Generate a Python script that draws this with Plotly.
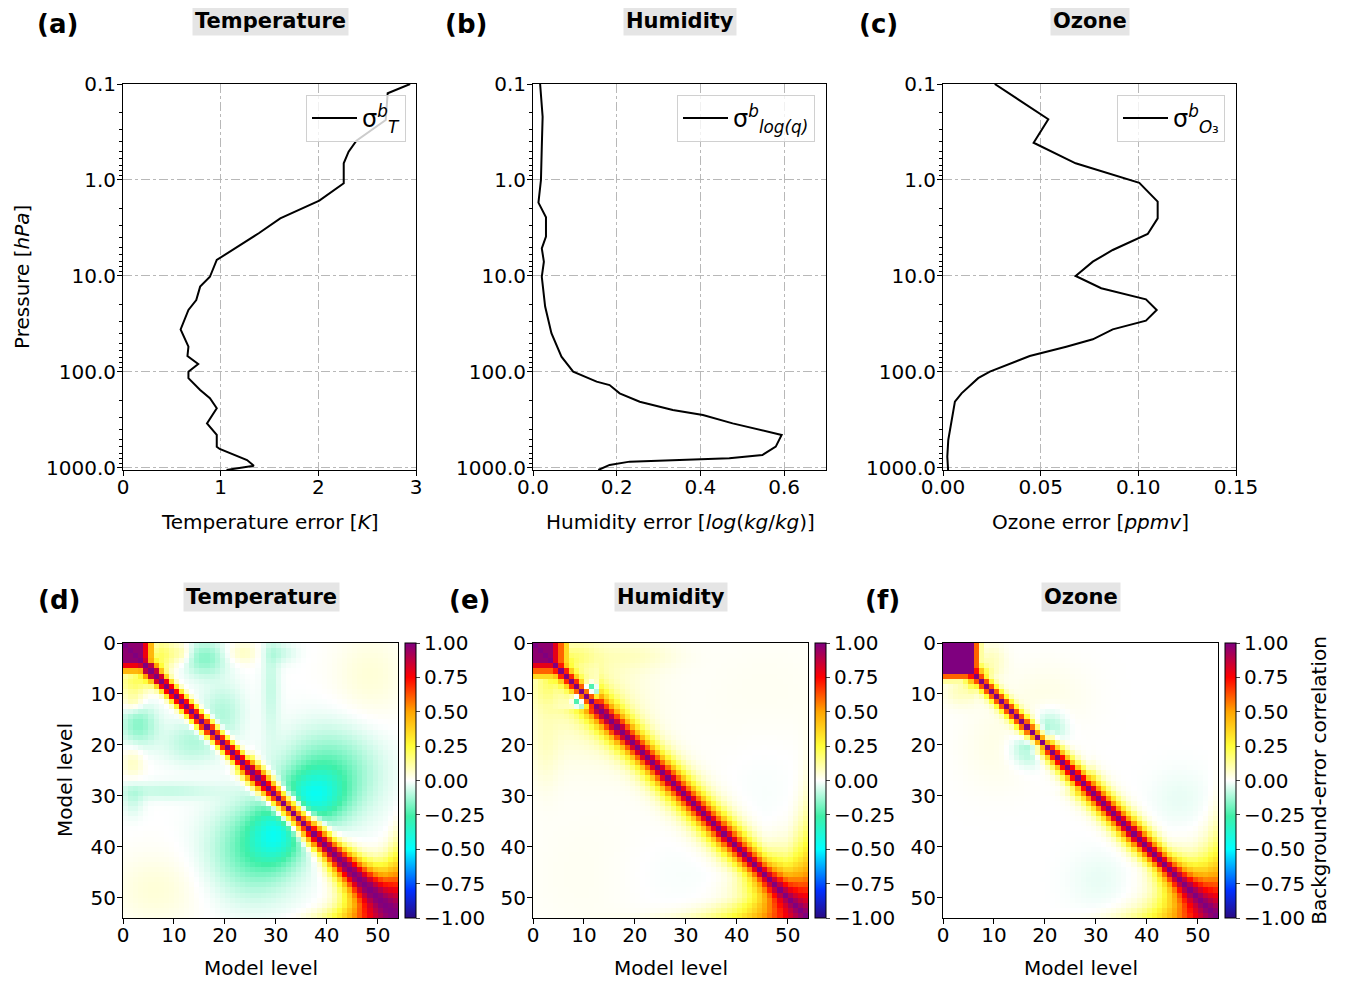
import numpy as np
import plotly.graph_objects as go

# the page body adds an 8 px margin, so the figure is drawn 8 px in from the window corner
OFF = 8
W, H = 1352 - OFF, 981 - OFF
FONT = "DejaVu Sans"

# ---------------- profile data ----------------
t_err = [2.94, 2.71, 2.69, 2.39, 2.31, 2.26, 2.26, 2.01, 1.61, 1.39, 0.96, 0.89, 0.79, 0.75,
         0.67, 0.59, 0.67, 0.66, 0.77, 0.67, 0.67, 0.79, 0.89, 0.96, 0.86, 0.96, 0.96, 0.99,
         1.27, 1.34, 1.06]
t_p = [0.1, 0.125, 0.237, 0.389, 0.507, 0.67, 1.08, 1.64, 2.51, 3.59, 6.81, 10.2, 12.9, 17.8,
       22.6, 36.0, 54.5, 68.1, 82.6, 99.3, 116, 154, 188, 239, 343, 453, 600, 634,
       826, 946, 1050]

q_err = [0.017, 0.023, 0.021, 0.019, 0.013, 0.031, 0.031, 0.021, 0.026, 0.021, 0.029, 0.044,
         0.068, 0.096, 0.152, 0.183, 0.207, 0.255, 0.334, 0.406, 0.477, 0.548, 0.594, 0.580,
         0.548, 0.469, 0.231, 0.183, 0.156]
q_p = [0.1, 0.219, 0.45, 1.0, 1.72, 2.45, 3.89, 5.15, 7.09, 10.2, 20.8, 39.5,
       69.2, 99.3, 126, 137, 167, 204, 249, 281, 343, 402, 453, 600,
       733, 793, 859, 930, 1050]

o_err = [0.0265, 0.0539, 0.0464, 0.0679, 0.1005, 0.1099, 0.1099, 0.1048, 0.0869, 0.0767,
         0.0679, 0.0810, 0.1039, 0.1094, 0.1039, 0.0869, 0.0767, 0.0631, 0.0444, 0.0240,
         0.0180, 0.0095, 0.0061, 0.0044, 0.0027, 0.0022, 0.0026]
o_p = [0.1, 0.233, 0.409, 0.67, 1.07, 1.68, 2.51, 3.65, 5.36, 7.09,
       10.0, 13.4, 17.5, 22.6, 29.2, 36.0, 45.7, 54.5, 68.1, 99.3,
       116, 167, 204, 316, 511, 762, 1050]

p_ticks = [0.1, 1.0, 10.0, 100.0, 1000.0]
p_ticklabels = ["0.1", "1.0", "10.0", "100.0", "1000.0"]

# ---------------- correlation matrices ----------------
levels = list(range(54))

# decorrelation length (in levels) of the diagonal band, per model level,
# and the shape exponent of the band for each variable
t_len = [2.0] * 5 + [1.85] * 20 + [2.4] * 8 + [2.8] * 9 + \
        [3.0, 3.2, 3.5, 3.8, 4.0, 4.3, 4.7, 5.2, 6.0, 7.0, 8.5, 10.0]
q_len = [2.0] * 4 + [1.7] * 9 + [3.2] * 33 + \
        [3.5, 4.0, 4.5, 5.0, 6.0, 7.5, 9.0, 11.0]
o_len = [2.0] * 6 + [1.56] * 15 + [2.2] * 8 + [2.7] * 16 + \
        [3.0, 3.4, 3.8, 4.3, 5.0, 6.0, 7.0, 8.5, 10.0]
t_shape, q_shape, o_shape = 2.0, 1.3, 1.5

# off-diagonal features: (row, col, row spread, col spread, correlation)
t_feat = [(29.5, 37, 3.5, 4.0, -0.30), (26, 40, 6.5, 6.5, -0.14), (40, 24, 6, 5, -0.08),
          (15.5, 2.5, 3, 2.5, -0.16), (7, 2, 1.8, 2.5, 0.20), (28.5, 8, 1.2, 7, -0.08),
          (13, 19, 4, 3, -0.10), (1.5, 11, 1.5, 1.5, 0.12), (1.5, 23, 1.5, 2.5, 0.08),
          (1.5, 30, 1.5, 2.5, -0.07), (48, 6, 5, 6, 0.05)]
q_feat = [(10, 10, 9, 9, 0.08), (2, 8, 2, 3, 0.10), (2, 20, 2, 6, 0.05), (45, 12, 8, 10, 0.03),
          (20, 45, 12, 6, -0.02), (8, 10.5, 0.6, 0.8, -0.45), (11.5, 9.0, 0.6, 0.6, -0.4)]
o_feat = [(16.5, 20.5, 2.5, 2.2, -0.14), (3, 9, 2.5, 2, 0.08), (30, 46, 4, 4, -0.03),
          (20, 10, 6, 5, 0.03)]

# strongly-correlated top blocks: (first level, last level + 1, correlation)
t_blocks = [(0, 6, 0.45), (0, 5, 0.78), (0, 4, 0.97)]
q_blocks = [(0, 7, 0.35), (0, 6, 0.6), (0, 5, 0.8), (0, 4, 0.97)]
o_blocks = [(0, 8, 0.12), (0, 7, 0.6), (0, 6, 1.0)]


def build_corr(lens, shape, feats, blocks):
    n = len(lens)
    idx = np.arange(n)
    I, J = np.meshgrid(idx, idx, indexing="ij")
    L = np.asarray(lens, float)
    Lm = np.maximum(L[:, None], L[None, :])
    C = np.exp(-(np.abs(I - J) / Lm) ** shape)
    for ci, cj, si, sj, a in feats:
        g = a * np.exp(-0.5 * (((I - ci) / si) ** 2 + ((J - cj) / sj) ** 2))
        C += (g + g.T) if ci != cj else g
    for s, e, v in blocks:
        C[s:e, s:e] = np.maximum(C[s:e, s:e], v)
    np.fill_diagonal(C, 1.0)
    return np.clip(C, -1, 1)


corr_t = build_corr(t_len, t_shape, t_feat, t_blocks)
corr_q = build_corr(q_len, q_shape, q_feat, q_blocks)
corr_o = build_corr(o_len, o_shape, o_feat, o_blocks)

cb_ticks = [1.0, 0.75, 0.5, 0.25, 0.0, -0.25, -0.5, -0.75, -1.0]
cb_labels = ["1.00", "0.75", "0.50", "0.25", "0.00", "\u22120.25", "\u22120.50", "\u22120.75", "\u22121.00"]

cscale = [[0.0, "#2a0a82"], [0.1, "#0030ff"], [0.25, "#00ffff"], [0.37, "#3ff0a8"],
          [0.5, "#ffffff"], [0.625, "#ffff3a"], [0.75, "#ffa500"], [0.875, "#ff0000"],
          [1.0, "#7f007f"]]


# ---------------- layout helpers (window pixel -> paper fraction) ----------------
def px_x(x):
    return (x - OFF) / W


def px_y(y):
    return 1 - (y - OFF) / H


fig = go.Figure()

top_x = [(123, 416), (533, 826), (943, 1236)]
top_y = (84, 470)
bot_x = [(123, 398), (533, 808), (943, 1218)]
bot_y = (643, 918)
cb_x = [405, 815, 1225]

axis_common = dict(showline=True, linecolor="black", linewidth=1, mirror=True,
                   ticks="outside", ticklen=5, tickcolor="black", tickwidth=1,
                   tickfont=dict(family=FONT, size=20, color="black"), zeroline=False,
                   automargin=False)
x_extra = dict(ticklabelstandoff=-6)
y_extra = dict(ticklabelstandoff=-3)
grid = dict(showgrid=True, gridcolor="#b8b8b8", gridwidth=1, griddash="dashdot")

minor_vals = [m * 10.0 ** e for e in range(-1, 3) for m in range(2, 10)]

profiles = [
    (t_err, t_p, "\u03c3<sup><i>b</i></sup><sub><i>T</i></sub>", [0, 3], [0, 1, 2, 3], ["0", "1", "2", "3"]),
    (q_err, q_p, "\u03c3<sup><i>b</i></sup><sub><i>log(q)</i></sub>", [0, 0.7], [0, 0.2, 0.4, 0.6],
     ["0.0", "0.2", "0.4", "0.6"]),
    (o_err, o_p, "\u03c3<sup><i>b</i></sup><sub><i>O</i>\u2083</sub>", [0, 0.15], [0, 0.05, 0.10, 0.15],
     ["0.00", "0.05", "0.10", "0.15"]),
]
legend_right = [406, 815, 1225]

for k, (xv, pv, name, xr, xt, xtl) in enumerate(profiles):
    n = k + 1
    sfx = "" if n == 1 else str(n)
    lg = "legend" if n == 1 else f"legend{n}"
    fig.add_trace(go.Scatter(x=xv, y=pv, mode="lines", line=dict(color="black", width=2),
                             name=name, xaxis=f"x{sfx}", yaxis=f"y{sfx}", legend=lg,
                             showlegend=True))
    fig.layout[f"xaxis{sfx}"] = dict(domain=[px_x(top_x[k][0]), px_x(top_x[k][1])], range=xr,
                                     tickvals=xt, ticktext=xtl, anchor=f"y{sfx}",
                                     **axis_common, **x_extra, **grid)
    fig.layout[f"yaxis{sfx}"] = dict(domain=[px_y(top_y[1]), px_y(top_y[0])], type="log",
                                     range=[np.log10(1050), -1], tickvals=p_ticks,
                                     ticktext=p_ticklabels, anchor=f"x{sfx}",
                                     minor=dict(tickvals=minor_vals, ticks="outside", ticklen=3,
                                                tickcolor="black", showgrid=False),
                                     **axis_common, **y_extra, **grid)
    fig.layout[lg] = dict(x=px_x(legend_right[k]), xanchor="right", y=px_y(95), yanchor="top",
                          bgcolor="rgba(255,255,255,0.8)", bordercolor="#d0d0d0", borderwidth=1,
                          itemwidth=45, font=dict(family=FONT, size=24, color="black"))

mats = [corr_t, corr_q, corr_o]
for k, M in enumerate(mats):
    n = k + 4
    cb = dict(x=px_x(cb_x[k]), xanchor="left", xpad=0, thickness=11, len=(bot_y[1] - bot_y[0]) / H,
              lenmode="fraction", y=px_y((bot_y[0] + bot_y[1]) / 2), yanchor="middle", ypad=0,
              tickvals=cb_ticks, ticktext=cb_labels, ticks="outside", ticklen=4,
              tickfont=dict(family=FONT, size=20, color="black"), outlinecolor="black",
              outlinewidth=1)
    if k == 2:
        cb["title"] = dict(text="Background-error correlation", side="right",
                           font=dict(family=FONT, size=20, color="black"))
    fig.add_trace(go.Heatmap(z=M, x=[v + 0.5 for v in levels], y=[v + 0.5 for v in levels],
                             colorscale=cscale, zmin=-1, zmax=1, zsmooth=False,
                             xaxis=f"x{n}", yaxis=f"y{n}", colorbar=cb, showscale=True))
    fig.layout[f"xaxis{n}"] = dict(domain=[px_x(bot_x[k][0]), px_x(bot_x[k][1])], range=[0, 54],
                                   tickvals=[0, 10, 20, 30, 40, 50], anchor=f"y{n}",
                                   showgrid=False, **axis_common, **x_extra)
    fig.layout[f"yaxis{n}"] = dict(domain=[px_y(bot_y[1]), px_y(bot_y[0])], range=[54, 0],
                                   tickvals=[0, 10, 20, 30, 40, 50], anchor=f"x{n}",
                                   showgrid=False, **axis_common, **y_extra)

ann = []


def text(x, y, s, size=20, bold=False, bg=None, angle=0, xanchor="center"):
    d = dict(x=px_x(x), y=px_y(y), xref="paper", yref="paper", showarrow=False,
             text=f"<b>{s}</b>" if bold else s, xanchor=xanchor, yanchor="middle",
             font=dict(family=FONT, size=size, color="black"), textangle=angle)
    if bg:
        d.update(bgcolor=bg, borderpad=2)
    ann.append(d)


for lbl, xc, yc in [("(a)", 57, 24), ("(b)", 466, 24), ("(c)", 878, 24),
                    ("(d)", 59, 600), ("(e)", 469, 600), ("(f)", 882, 600)]:
    text(xc, yc, lbl, size=26, bold=True)
for t, xc, yc in [("Temperature", 270, 21), ("Humidity", 680, 21), ("Ozone", 1090, 21),
                  ("Temperature", 261, 597), ("Humidity", 671, 597), ("Ozone", 1081, 597)]:
    text(xc, yc, t, size=21, bold=True, bg="#e5e5e5")

text(270, 522, "Temperature error [<i>K</i>]")
text(680, 522, "Humidity error [<i>log</i>(<i>kg</i>/<i>kg</i>)]")
text(1090, 522, "Ozone error [<i>ppmv</i>]")
text(22, 277, "Pressure [<i>hPa</i>]", angle=-90)
text(65, 780, "Model level", angle=-90)
for xc in [261, 671, 1081]:
    text(xc, 968, "Model level")

fig.update_layout(width=W, height=H, margin=dict(l=0, r=0, t=0, b=0, autoexpand=False),
                  paper_bgcolor="white", plot_bgcolor="white", annotations=ann,
                  font=dict(family=FONT, size=20, color="black"))

fig.write_html("out.html")
